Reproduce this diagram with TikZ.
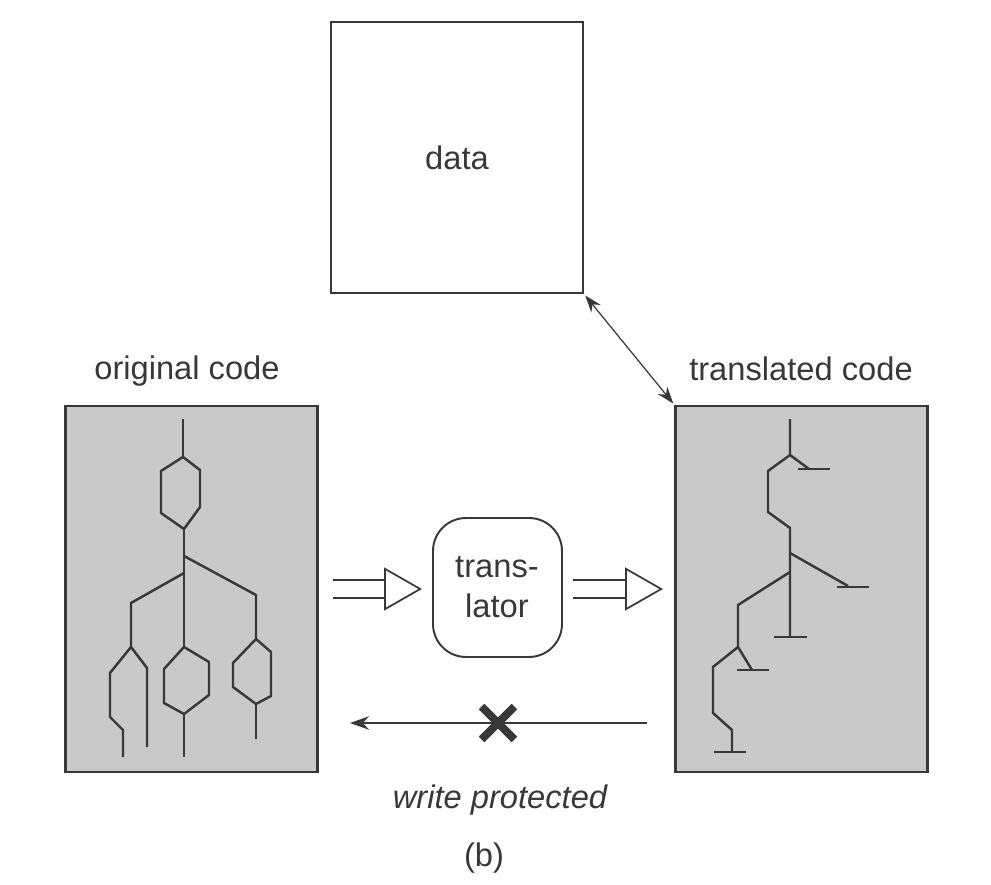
\documentclass[tikz,border=0pt]{standalone}
\usepackage{fontspec}
\setmainfont{Liberation Sans}
\usetikzlibrary{arrows.meta,shapes.misc}
\definecolor{ink}{gray}{0.22}
\definecolor{codegray}{gray}{0.79}
\tikzset{
  box/.style={draw=ink,line width=1.3pt,minimum width=5.04cm,inner sep=0pt},
  codebox/.style={box,fill=codegray,minimum height=7.32cm},
  wire/.style={draw=ink,line width=1.4pt,line join=round},
  label/.style={text=ink,font=\fontsize{18.6}{23}\selectfont,align=center,inner sep=0pt},
  hollow/.style={draw=ink,double=white,line width=1pt,double distance=0.33cm,
    -{Triangle[open,fill=white,length=0.76cm,width=0.86cm,line width=1pt]}},
  thin arrow/.style={draw=ink,line width=0.7pt},
  small tip/.style={arrows={#1}},
}
\begin{document}
\begin{tikzpicture}[x=0.02cm,y=-0.02cm]
   \useasboundingbox (0,0) rectangle (991,885);

   \node[box,minimum height=5.42cm] (data) at (457,157.5) {};
   \node[label] (datatext) at (457,158) {data};
   \node[codebox] (original) at (191.5,589) {};
   \node[codebox] (translated) at (801.5,589) {};
   \node[box,fill=white,minimum width=2.58cm,minimum height=2.78cm,rounded corners=0.66cm,line width=1.1pt] (translator) at (497.5,587.5) {};
   \node[label] (translatortext) at (497,587) {trans-\\lator};

   \node[label] (originaltext) at (187,371) {original code};
   \node[label] (translatedtext) at (801,369) {translated code};
   \node[label,font=\fontsize{18.6}{23}\selectfont\itshape] (protected) at (500,800) {write protected};
   \node[label] (caption) at (484,858) {(b)};

   \coordinate (wrfrom) at (647,723);
   \coordinate (wrto) at (350,723);
   \coordinate (inleft) at (333,589);
   \coordinate (inright) at (422,589);
   \coordinate (outleft) at (573,589);
   \coordinate (outright) at (663,589);

   \draw[hollow] (inleft) -- (inright);
   \draw[hollow] (outleft) -- (outright);
   \draw[thin arrow,-{Stealth[length=0.38cm,width=0.27cm]}] (wrfrom) -- (wrto);
   \draw[thin arrow,{Stealth[length=0.34cm,width=0.24cm]}-{Stealth[length=0.34cm,width=0.24cm]},shorten <=1pt,shorten >=1pt] (data.south east) -- (translated.north west);
   \node[cross out,draw=ink,line width=4.5pt,minimum size=0.5cm,inner sep=0pt] (cross) at (498,723) {};

   % original code
   \draw[wire] (183,419) -- (183,457);
   \draw[wire] (183,457) -- (200,470) -- (200,507) -- (184,529) -- (161,513) -- (161,471) -- cycle;
   \draw[wire] (184,529) -- (184,647);
   \draw[wire] (184,647) -- (209,662) -- (209,695) -- (184,714) -- (164,703) -- (164,669) -- cycle;
   \draw[wire] (184,714) -- (184,757);
   \draw[wire] (184,556) -- (256,595) -- (256,639);
   \draw[wire] (256,639) -- (271,652) -- (271,696) -- (256,704) -- (233,687) -- (233,663) -- cycle;
   \draw[wire] (256,704) -- (256,739);
   \draw[wire] (184,573) -- (131,603) -- (131,647) -- (147,668) -- (147,747);
   \draw[wire] (131,647) -- (110,673) -- (110,717) -- (123,730) -- (123,757);

   % translated code
   \draw[wire] (790,419) -- (790,455) -- (809,469);
   \draw[wire] (798,469) -- (830,469);
   \draw[wire] (790,455) -- (768,471) -- (768,512) -- (790,528) -- (790,637);
   \draw[wire] (774,637) -- (807,637);
   \draw[wire] (790,553) -- (848,586);
   \draw[wire] (837,587) -- (869,587);
   \draw[wire] (790,572) -- (738,605) -- (738,647) -- (752,670);
   \draw[wire] (737,670) -- (769,670);
   \draw[wire] (738,647) -- (713,667) -- (713,713) -- (732,730) -- (732,752);
   \draw[wire] (714,752) -- (746,752);
\end{tikzpicture}
\end{document}
